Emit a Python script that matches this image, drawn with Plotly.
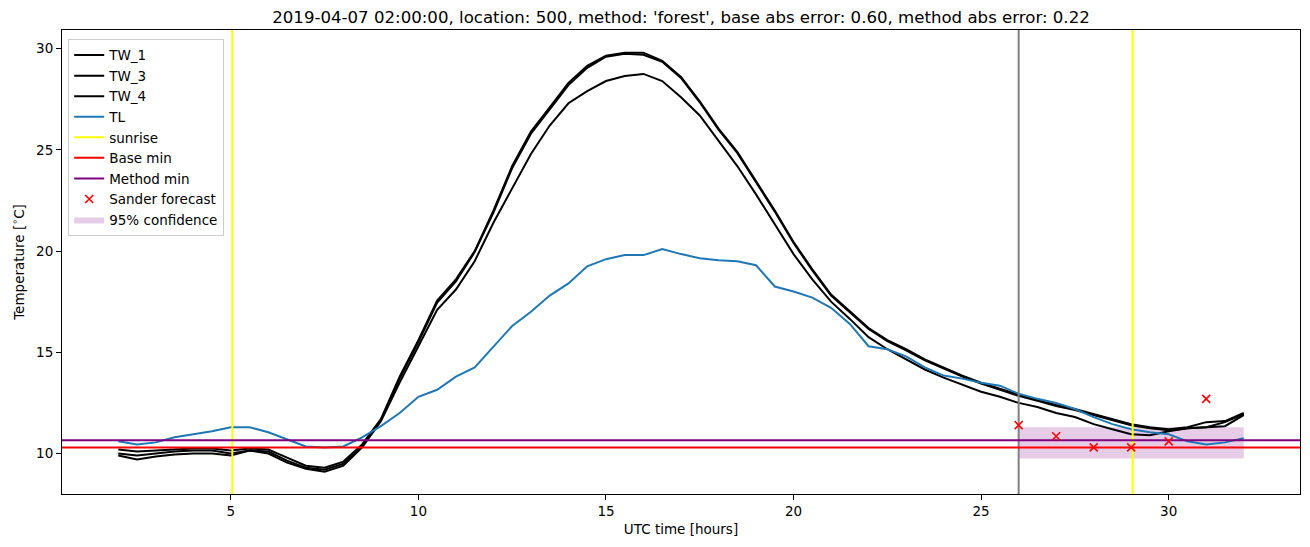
import plotly.graph_objects as go

# ---- data ----
HOURS = [2.0, 2.5, 3.0, 3.5, 4.0, 4.5, 5.0, 5.5, 6.0, 6.5, 7.0, 7.5, 8.0, 8.5, 9.0, 9.5,
         10.0, 10.5, 11.0, 11.5, 12.0, 12.5, 13.0, 13.5, 14.0, 14.5, 15.0, 15.5, 16.0, 16.5,
         17.0, 17.5, 18.0, 18.5, 19.0, 19.5, 20.0, 20.5, 21.0, 21.5, 22.0, 22.5, 23.0, 23.5,
         24.0, 24.5, 25.0, 25.5, 26.0, 26.5, 27.0, 27.5, 28.0, 28.5, 29.0, 29.5, 30.0, 30.5,
         31.0, 31.5, 32.0]

TW_1 = [10.2, 10.1, 10.15, 10.2, 10.25, 10.25, 10.15, 10.25, 10.2, 9.8, 9.4, 9.3, 9.6, 10.45,
        11.7, 13.8, 15.6, 17.55, 18.6, 20.0, 22.0, 24.2, 25.9, 27.1, 28.3, 29.15, 29.65, 29.8,
        29.8, 29.4, 28.6, 27.4, 26.05, 24.9, 23.45, 22.0, 20.45, 19.1, 17.85, 17.0, 16.2, 15.6,
        15.15, 14.65, 14.25, 13.85, 13.5, 13.2, 12.9, 12.65, 12.4, 12.2, 11.95, 11.7, 11.45,
        11.3, 11.2, 11.3, 11.55, 11.6, 12.0]

TW_3 = [10.0, 9.9, 10.0, 10.1, 10.15, 10.15, 10.0, 10.15, 10.1, 9.65, 9.3, 9.2, 9.5, 10.35,
        11.65, 13.7, 15.5, 17.45, 18.5, 19.95, 21.9, 24.1, 25.8, 27.0, 28.2, 29.05, 29.6, 29.75,
        29.7, 29.35, 28.55, 27.35, 26.0, 24.85, 23.4, 21.95, 20.4, 19.05, 17.8, 16.95, 16.15,
        15.55, 15.1, 14.6, 14.2, 13.8, 13.45, 13.15, 12.85, 12.6, 12.35, 12.15, 11.9, 11.65,
        11.4, 11.25, 11.15, 11.25, 11.3, 11.55, 11.95]

TW_4 = [9.9, 9.7, 9.85, 9.95, 10.0, 10.0, 9.9, 10.15, 10.0, 9.55, 9.25, 9.1, 9.4, 10.3,
        11.6, 13.5, 15.3, 17.1, 18.1, 19.5, 21.4, 23.1, 24.8, 26.2, 27.3, 27.9, 28.4, 28.65,
        28.75, 28.4, 27.6, 26.7, 25.45, 24.2, 22.8, 21.35, 19.85, 18.6, 17.5, 16.65, 15.75,
        15.15, 14.65, 14.15, 13.75, 13.4, 13.05, 12.8, 12.5, 12.3, 12.0, 11.8, 11.45, 11.2,
        10.95, 10.9, 11.1, 11.25, 11.3, 11.35, 11.9]

TL = [10.6, 10.45, 10.55, 10.8, 10.95, 11.1, 11.3, 11.3, 11.05, 10.7, 10.35, 10.3, 10.35,
      10.8, 11.35, 12.0, 12.8, 13.15, 13.8, 14.25, 15.3, 16.3, 17.0, 17.8, 18.4, 19.25, 19.6,
      19.8, 19.8, 20.1, 19.85, 19.65, 19.55, 19.5, 19.3, 18.25, 18.0, 17.7, 17.2, 16.4, 15.3,
      15.15, 14.8, 14.25, 13.85, 13.7, 13.5, 13.35, 12.95, 12.7, 12.5, 12.2, 11.8, 11.45,
      11.2, 11.05, 10.95, 10.6, 10.45, 10.55, 10.75]

SUNRISE = [5.04, 29.04]
FORECAST_START = 26.0
BASE_MIN = 10.3
METHOD_MIN = 10.66

SANDER_HOURS = [26, 27, 28, 29, 30, 31]
SANDER_VALUES = [11.4, 10.85, 10.3, 10.3, 10.6, 12.7]

CONF_HOURS = [26.0, 32.0]
CONF_LOW = 9.75
CONF_HIGH = 11.3

X_RANGE = [0.5, 33.5]
Y_RANGE = [8.0, 30.92]
X_TICKS = [5, 10, 15, 20, 25, 30]
Y_TICKS = [10, 15, 20, 25, 30]

TITLE = ("2019-04-07 02:00:00, location: 500, method: 'forest', "
         "base abs error: 0.60, method abs error: 0.22")

# ---- figure ----
fig = go.Figure()

# confidence band (drawn first, listed last)
fig.add_trace(go.Scatter(
    x=[CONF_HOURS[0], CONF_HOURS[1], CONF_HOURS[1], CONF_HOURS[0], CONF_HOURS[0]],
    y=[CONF_LOW, CONF_LOW, CONF_HIGH, CONF_HIGH, CONF_LOW],
    fill="toself", fillcolor="rgba(128,0,128,0.2)", line=dict(width=0),
    mode="lines", name="95% confidence", legendrank=9, hoverinfo="skip"))

for i, (name, ys) in enumerate([("TW_1", TW_1), ("TW_3", TW_3), ("TW_4", TW_4)]):
    fig.add_trace(go.Scatter(x=HOURS, y=ys, mode="lines", name=name,
                             line=dict(color="black", width=2), legendrank=1 + i))

fig.add_trace(go.Scatter(x=HOURS, y=TL, mode="lines", name="TL",
                         line=dict(color="#1f77b4", width=2), legendrank=4))

# gray vertical line at forecast start (no legend)
fig.add_trace(go.Scatter(x=[FORECAST_START, FORECAST_START], y=Y_RANGE, mode="lines",
                         line=dict(color="gray", width=2), showlegend=False, hoverinfo="skip"))

# sunrise
sx, sy = [], []
for s in SUNRISE:
    sx += [s, s, None]
    sy += [Y_RANGE[0], Y_RANGE[1], None]
fig.add_trace(go.Scatter(x=sx, y=sy, mode="lines", name="sunrise",
                         line=dict(color="yellow", width=2), legendrank=5))

fig.add_trace(go.Scatter(x=X_RANGE, y=[BASE_MIN, BASE_MIN], mode="lines", name="Base min",
                         line=dict(color="red", width=2), legendrank=6))
fig.add_trace(go.Scatter(x=X_RANGE, y=[METHOD_MIN, METHOD_MIN], mode="lines", name="Method min",
                         line=dict(color="purple", width=2), legendrank=7))

fig.add_trace(go.Scatter(x=SANDER_HOURS, y=SANDER_VALUES, mode="markers", name="Sander forecast",
                         marker=dict(symbol="x-thin", size=8, color="red",
                                     line=dict(color="red", width=1.6)),
                         legendrank=8))

FONT = "DejaVu Sans"
fig.update_layout(
    width=1310, height=547,
    margin=dict(l=62, r=10, t=30, b=53),
    paper_bgcolor="white", plot_bgcolor="white",
    font=dict(family=FONT, size=13, color="black"),
    title=dict(text=TITLE, x=0.5, xref="paper", xanchor="center",
               y=1 - 17 / 547, yref="container", yanchor="middle",
               font=dict(family=FONT, size=16.6, color="black")),
    showlegend=True,
    legend=dict(x=0.005, y=0.981, xanchor="left", yanchor="top",
                bgcolor="rgba(255,255,255,0.8)", bordercolor="#cccccc", borderwidth=1,
                font=dict(family=FONT, size=13.5), tracegroupgap=0, itemwidth=30),
)
fig.update_xaxes(range=X_RANGE, tickvals=X_TICKS, ticks="outside", ticklen=5, tickwidth=1,
                 tickcolor="black", showline=True, linecolor="black", linewidth=1, mirror=True,
                 showgrid=False, zeroline=False, tickfont=dict(size=13.5),
                 title=dict(text="UTC time [hours]", font=dict(size=13.5), standoff=6))
fig.update_yaxes(range=Y_RANGE, tickvals=Y_TICKS, ticks="outside", ticklen=5, tickwidth=1,
                 tickcolor="black", showline=True, linecolor="black", linewidth=1, mirror=True,
                 showgrid=False, zeroline=False, tickfont=dict(size=13.5),
                 title=dict(text="Temperature [<sup>∘</sup>C]", font=dict(size=13.5), standoff=8))

fig.write_html("out.html")
